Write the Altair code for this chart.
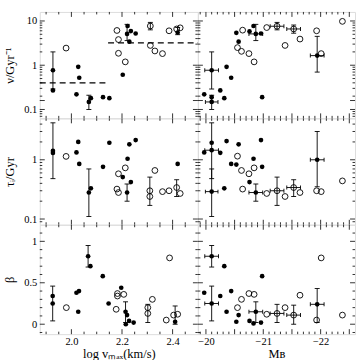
import altair as alt
import pandas as pd

# ---------------- data ----------------
# top-left: nu vs log vmax
NU_LV_X = [1.927, 1.927, 2.027, 2.031, 2.020, 2.069, 2.077, 2.125, 2.150, 2.203, 2.222, 2.220, 2.229, 2.235, 2.254, 2.420,
           1.979, 2.180, 2.186, 2.186, 2.213, 2.312, 2.312, 2.330, 2.360, 2.386, 2.416, 2.430]
NU_LV_Y = [0.77, 0.27, 0.92, 0.52, 0.22, 0.148, 0.18, 0.19, 0.18, 0.61, 7.7, 5.1, 3.4, 5.9, 5.2, 5.5,
           2.44, 6.1, 3.8, 1.86, 1.19, 7.7, 2.8, 2.1, 1.83, 6.0, 6.6, 7.0]
NU_LV_K = ["f"] * 16 + ["o"] * 12
NU_LV_VBARS = [(1.927, 0.29, 2.0), (2.069, 0.10, 0.21), (2.220, 3.6, 8.4), (2.312, 6.3, 9.3), (2.420, 4.9, 7.1)]
NU_LV_HBARS = []
NU_DASH_X1 = [1.875, 2.145]
NU_DASH_X2 = [2.145, 2.5]
NU_DASH_Y = [0.40, 3.2]

# top-right: nu vs M_B
NU_MB_X = [-20.10, -20.10, -20.10, -19.97, -20.25, -20.32, -20.36, -20.44, -20.53, -20.57, -20.76, -20.83, -20.87, -20.96, -20.98, -21.94,
           -20.55, -20.62, -20.64, -20.75, -20.84, -21.06, -21.24, -21.38, -21.53, -21.64, -21.93, -22.01, -22.38]
NU_MB_Y = [0.77, 0.19, 0.148, 0.22, 0.27, 0.18, 0.92, 0.52, 5.4, 3.4, 5.8, 7.7, 5.1, 5.2, 0.19, 1.65,
           2.5, 2.06, 6.2, 1.83, 1.19, 7.1, 7.6, 2.8, 6.6, 3.9, 6.0, 1.83, 9.8]
NU_MB_K = ["f"] * 16 + ["o"] * 13
NU_MB_VBARS = [(-20.10, 0.29, 2.0), (-20.10, 0.10, 0.21), (-20.87, 3.6, 8.4), (-21.24, 6.3, 9.3), (-21.53, 5.3, 8.1), (-21.94, 0.70, 4.5)]
NU_MB_HBARS = [(-19.98, -20.22, 0.77), (-19.99, -20.21, 0.148), (-20.75, -20.99, 5.1), (-21.12, -21.36, 7.6), (-21.41, -21.65, 6.6), (-21.82, -22.06, 1.65)]

# middle-left: tau vs log vmax
TAU_LV_X = [1.927, 1.927, 2.020, 2.027, 2.031, 2.069, 2.077, 2.125, 2.150, 2.203, 2.222, 2.220, 2.229, 2.235, 2.254, 2.420,
            1.979, 2.180, 2.186, 2.186, 2.213, 2.310, 2.310, 2.330, 2.360, 2.386, 2.416, 2.430]
TAU_LV_Y = [1.41, 1.30, 1.33, 2.0, 0.85, 0.28, 0.33, 0.76, 1.94, 0.51, 1.04, 0.28, 1.82, 0.42, 2.15, 0.85,
            1.14, 0.32, 0.58, 0.28, 0.73, 0.30, 0.24, 0.66, 0.29, 0.30, 0.34, 0.27]
TAU_LV_K = ["f"] * 16 + ["o"] * 12
TAU_LV_VBARS = [(1.927, 0.48, 4.2), (2.069, 0.11, 0.70), (2.220, 0.20, 0.39), (2.310, 0.17, 0.51), (2.416, 0.24, 0.46)]
TAU_LV_HBARS = []

# middle-right: tau vs M_B
TAU_MB_X = [-20.10, -20.10, -19.97, -20.10, -20.25, -20.32, -20.36, -20.44, -20.53, -20.57, -20.76, -20.83, -20.87, -20.96, -20.98, -21.94,
            -20.55, -20.62, -20.64, -20.75, -20.84, -21.06, -21.24, -21.38, -21.53, -21.64, -21.93, -22.01, -22.38]
TAU_MB_Y = [1.45, 0.29, 1.33, 1.94, 1.31, 0.33, 2.07, 0.85, 0.83, 1.82, 0.42, 1.04, 0.28, 2.15, 0.76, 1.0,
            1.15, 0.66, 0.32, 0.58, 0.73, 0.27, 0.30, 0.24, 0.34, 0.28, 0.30, 0.29, 0.44]
TAU_MB_K = ["f"] * 16 + ["o"] * 13
TAU_MB_VBARS = [(-20.10, 0.48, 4.2), (-20.10, 0.11, 0.70), (-20.87, 0.20, 0.39), (-21.24, 0.17, 0.51), (-21.53, 0.24, 0.46), (-21.94, 0.35, 3.0)]
TAU_MB_HBARS = [(-19.98, -20.22, 1.45), (-19.99, -20.21, 0.29), (-20.75, -20.99, 0.28), (-21.12, -21.36, 0.30), (-21.41, -21.65, 0.34), (-21.82, -22.06, 1.0)]

# bottom-left: beta vs log vmax
BETA_LV_X = [1.926, 1.926, 2.020, 2.030, 2.027, 2.066, 2.075, 2.124, 2.147, 2.197, 2.214, 2.215, 2.220, 2.228, 2.246, 2.410,
             1.980, 2.177, 2.182, 2.182, 2.207, 2.302, 2.302, 2.320, 2.375, 2.388, 2.404, 2.420]
BETA_LV_Y = [0.34, 0.25, 0.38, 0.40, 0.15, 0.82, 0.70, 0.58, 0.25, 0.44, 0.15, 0.0, 0.11, 0.04, 0.02, 0.03,
             0.20, 0.18, 0.37, 0.34, 0.36, 0.20, 0.13, 0.30, 0.05, 0.80, 0.11, 0.12]
BETA_LV_K = ["f"] * 16 + ["o"] * 12
BETA_LV_VBARS = [(1.926, 0.04, 0.46), (2.066, 0.69, 0.95), (2.214, 0.02, 0.27), (2.302, 0.02, 0.24), (2.410, 0.0, 0.22)]
BETA_LV_HBARS = []

# bottom-right: beta vs M_B
BETA_MB_X = [-20.10, -20.10, -19.97, -20.25, -20.32, -20.36, -20.44, -20.53, -20.57, -20.76, -20.83, -20.87, -20.96, -20.98, -21.94,
             -20.55, -20.62, -20.75, -20.84, -21.06, -21.24, -21.38, -21.53, -21.64, -21.93, -22.01, -22.38]
BETA_MB_Y = [0.82, 0.25, 0.38, 0.34, 0.70, 0.15, 0.40, 0.03, 0.11, 0.04, 0.01, 0.15, 0.02, 0.58, 0.24,
             0.20, 0.30, 0.37, 0.36, 0.12, 0.13, 0.20, 0.11, 0.35, 0.05, 0.80, 0.11]
BETA_MB_K = ["f"] * 15 + ["o"] * 12
BETA_MB_VBARS = [(-20.10, 0.69, 0.95), (-20.10, 0.04, 0.46), (-20.87, 0.02, 0.27), (-21.24, 0.02, 0.24), (-21.53, 0.0, 0.23), (-21.94, 0.02, 0.43)]
BETA_MB_HBARS = [(-19.98, -20.22, 0.82), (-19.98, -20.22, 0.25), (-20.75, -20.99, 0.15), (-21.12, -21.36, 0.13), (-21.41, -21.65, 0.11), (-21.82, -22.06, 0.24)]

# ---------------- axes / ticks ----------------
LV_DOMAIN = [1.875, 2.5]
MB_DOMAIN = [-22.6, -19.86]
NU_DOMAIN = [0.063, 16]
TAU_DOMAIN = [0.08, 5]
BETA_DOMAIN = [-0.12, 1.2]

LV_LABELS = [2.0, 2.2, 2.4]
LV_MAJOR = [2.0, 2.2, 2.4]
LV_MINOR = [1.9, 1.95, 2.05, 2.1, 2.15, 2.25, 2.3, 2.35, 2.45]
MB_LABELS = [-20, -21, -22]
MB_MAJOR = [-20, -20.5, -21, -21.5, -22, -22.5]
MB_MINOR = [-19.9, -20.1, -20.2, -20.3, -20.4, -20.6, -20.7, -20.8, -20.9, -21.1, -21.2, -21.3, -21.4,
            -21.6, -21.7, -21.8, -21.9, -22.1, -22.2, -22.3, -22.4]
LOG_MAJOR = [0.1, 1, 10]
NU_MINOR = [0.07, 0.08, 0.09, 0.2, 0.3, 0.4, 0.5, 0.6, 0.7, 0.8, 0.9, 2, 3, 4, 5, 6, 7, 8, 9]
TAU_MINOR = [0.09, 0.2, 0.3, 0.4, 0.5, 0.6, 0.7, 0.8, 0.9, 2, 3, 4]
NU_LABELS = [0.1, 1, 10]
TAU_LABELS = [0.1, 1]
BETA_LABELS = [0, 0.5, 1]
BETA_MAJOR = [0, 0.5, 1]
BETA_MINOR = [-0.1, 0.1, 0.2, 0.3, 0.4, 0.6, 0.7, 0.8, 0.9, 1.1]

FONT = "Liberation Serif"
WL, WR = 159, 158
HS = [107, 107, 110]
MAJ, MIN = 5, 2.5

XSPEC_LV = dict(domain=LV_DOMAIN, type="linear", reverse=False, major=LV_MAJOR, minor=LV_MINOR,
                labels=LV_LABELS, fmt=".1f", title="log vₘₐₓ(km/s)")
XSPEC_MB = dict(domain=MB_DOMAIN, type="linear", reverse=True, major=MB_MAJOR, minor=MB_MINOR,
                labels=MB_LABELS, fmt="d", title="Mʙ")
YSPEC_NU = dict(domain=NU_DOMAIN, type="log", major=LOG_MAJOR, minor=NU_MINOR, labels=NU_LABELS,
                fmt="~g", title="ν/Gyr⁻¹")
YSPEC_TAU = dict(domain=TAU_DOMAIN, type="log", major=LOG_MAJOR, minor=TAU_MINOR, labels=TAU_LABELS,
                 fmt="~g", title="τᵢ/Gyr")
YSPEC_BETA = dict(domain=BETA_DOMAIN, type="linear", major=BETA_MAJOR, minor=BETA_MINOR, labels=BETA_LABELS,
                  fmt="~g", title="β")

AXIS_STYLE = dict(labelFont=FONT, titleFont=FONT, labelFontSize=10.5, titleFontSize=12.5,
                  labelColor="black", titleColor="black", titleFontWeight="normal",
                  ticks=False, domain=False, grid=False, labelFlush=False)


def scale(spec):
    if spec["type"] == "log":
        return alt.Scale(type="log", domain=spec["domain"], nice=False)
    return alt.Scale(type="linear", domain=spec["domain"], nice=False, zero=False,
                     reverse=spec.get("reverse", False))


def panel(px, py, pk, vbars, hbars, xs, ys, w, h, show_x, show_y, dashes=None):
    xsc, ysc = scale(xs), scale(ys)
    if show_x:
        xaxis = alt.Axis(values=xs["labels"], format=xs["fmt"], labelPadding=2, title=xs["title"],
                         titlePadding=1, **AXIS_STYLE)
    else:
        xaxis = None
    if show_y:
        yaxis = alt.Axis(values=ys["labels"], format=ys["fmt"], labelPadding=3, title=ys["title"],
                         titleX=-30, titleY=h / 2, titleBaseline="middle", **AXIS_STYLE)
    else:
        yaxis = None

    def X(f):
        return alt.X(f"{f}:Q", scale=xsc, axis=xaxis)

    def Y(f):
        return alt.Y(f"{f}:Q", scale=ysc, axis=yaxis)

    layers = []
    df = pd.DataFrame({"x": px, "y": py, "k": pk})
    layers.append(
        alt.Chart(df).transform_filter("datum.k == 'o'")
        .mark_point(shape="circle", filled=False, color="black", size=34, strokeWidth=0.9, opacity=1)
        .encode(x=X("x"), y=Y("y"))
    )
    layers.append(
        alt.Chart(df).transform_filter("datum.k == 'f'")
        .mark_circle(color="black", size=22, opacity=1)
        .encode(x=X("x"), y=Y("y"))
    )
    # ticks on all four sides, inward
    for vals, ln in ((xs["major"], MAJ), (xs["minor"], MIN)):
        tdf = pd.DataFrame({"t": vals})
        layers.append(alt.Chart(tdf).mark_rule(color="black", strokeWidth=0.8)
                      .encode(x=X("t"), y=alt.value(h), y2=alt.value(h - ln)))
        layers.append(alt.Chart(tdf).mark_rule(color="black", strokeWidth=0.8)
                      .encode(x=X("t"), y=alt.value(0), y2=alt.value(ln)))
    for vals, ln in ((ys["major"], MAJ), (ys["minor"], MIN)):
        tdf = pd.DataFrame({"t": vals})
        layers.append(alt.Chart(tdf).mark_rule(color="black", strokeWidth=0.8)
                      .encode(y=Y("t"), x=alt.value(0), x2=alt.value(ln)))
        layers.append(alt.Chart(tdf).mark_rule(color="black", strokeWidth=0.8)
                      .encode(y=Y("t"), x=alt.value(w - ln), x2=alt.value(w)))
    # vertical error bars
    if vbars:
        vdf = pd.DataFrame(vbars, columns=["x", "lo", "hi"])
        layers.append(alt.Chart(vdf).mark_rule(color="black", strokeWidth=0.9)
                      .encode(x=X("x"), y=Y("lo"), y2="hi:Q"))
        for c in ("lo", "hi"):
            layers.append(alt.Chart(vdf).mark_tick(orient="horizontal", size=5, thickness=0.9, color="black", opacity=1)
                          .encode(x=X("x"), y=Y(c)))
    if hbars:
        hdf = pd.DataFrame(hbars, columns=["lo", "hi", "y"])
        layers.append(alt.Chart(hdf).mark_rule(color="black", strokeWidth=0.9)
                      .encode(y=Y("y"), x=X("lo"), x2="hi:Q"))
        for c in ("lo", "hi"):
            layers.append(alt.Chart(hdf).mark_tick(orient="vertical", size=4, thickness=0.9, color="black", opacity=1)
                          .encode(y=Y("y"), x=X(c)))
    if dashes:
        ddf = pd.DataFrame({"x1": dashes[0], "x2": dashes[1], "y": dashes[2]})
        layers.append(alt.Chart(ddf).mark_rule(color="black", strokeWidth=1.2, strokeDash=[6, 4])
                      .encode(x=X("x1"), x2="x2:Q", y=Y("y")))
    return alt.layer(*layers).properties(width=w, height=h)


p = [
    panel(NU_LV_X, NU_LV_Y, NU_LV_K, NU_LV_VBARS, NU_LV_HBARS, XSPEC_LV, YSPEC_NU, WL, HS[0], False, True,
          dashes=(NU_DASH_X1, NU_DASH_X2, NU_DASH_Y)),
    panel(NU_MB_X, NU_MB_Y, NU_MB_K, NU_MB_VBARS, NU_MB_HBARS, XSPEC_MB, YSPEC_NU, WR, HS[0], False, False),
    panel(TAU_LV_X, TAU_LV_Y, TAU_LV_K, TAU_LV_VBARS, TAU_LV_HBARS, XSPEC_LV, YSPEC_TAU, WL, HS[1], False, True),
    panel(TAU_MB_X, TAU_MB_Y, TAU_MB_K, TAU_MB_VBARS, TAU_MB_HBARS, XSPEC_MB, YSPEC_TAU, WR, HS[1], False, False),
    panel(BETA_LV_X, BETA_LV_Y, BETA_LV_K, BETA_LV_VBARS, BETA_LV_HBARS, XSPEC_LV, YSPEC_BETA, WL, HS[2], True, True),
    panel(BETA_MB_X, BETA_MB_Y, BETA_MB_K, BETA_MB_VBARS, BETA_MB_HBARS, XSPEC_MB, YSPEC_BETA, WR, HS[2], True, False),
]

chart = (
    alt.concat(*p, columns=2, spacing=0, bounds="flush")
    .properties(padding={"left": 3, "top": 10, "right": 5, "bottom": 2})
    .configure_view(stroke="black", strokeWidth=1)
    .configure(background="white")
)

chart.save("out.html", embed_options={"renderer": "svg", "actions": False})
